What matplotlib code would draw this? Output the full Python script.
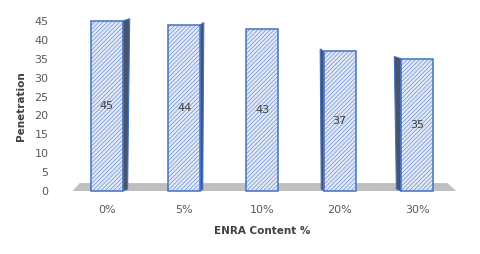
import matplotlib.pyplot as plt
from matplotlib.patches import Polygon

categories = ['0%', '5%', '10%', '20%', '30%']
penetration = [45, 44, 43, 37, 35]

plt.rcParams['hatch.linewidth'] = 0.6

fig = plt.figure(figsize=(4.8, 2.54), dpi=100)
ax = fig.add_axes([68 / 480, 1 - 191 / 254, 388 / 480, 170 / 254])

x = list(range(len(categories)))
w = 0.41
blue = '#4472c4'
side = '#465470'

# floor
floor = Polygon([(-0.44, 0), (4.50, 0), (4.39, 2.1), (-0.35, 2.1)],
                closed=True, facecolor='#bfbfbf', edgecolor='none', zorder=1, clip_on=False)
ax.add_patch(floor)

for i, v in enumerate(penetration):
    # side face, perspective shift depending on position
    dx = -(i - 2) * 0.045
    if abs(dx) > 0.001:
        edge = x[i] + w / 2 if dx > 0 else x[i] - w / 2
        face = Polygon([(edge, 0), (edge + dx * 0.7, 0.5), (edge + dx, v + 0.6), (edge, v)],
                       closed=True, facecolor=side, edgecolor=blue, lw=0.8, zorder=2, clip_on=False)
        ax.add_patch(face)
    ax.text(x[i], v / 2, str(v), ha='center', va='center', fontsize=8, color='#404040', zorder=5)

# hatched fill, then outline
ax.bar(x, penetration, width=w, color='#e3eaf7', edgecolor='#7f9dd8', linewidth=0,
       hatch='////////', zorder=3, clip_on=False)
ax.bar(x, penetration, width=w, color='none', edgecolor=blue, linewidth=1.1,
       zorder=4, clip_on=False)

ax.set_xlim(-0.5, 4.5)
ax.set_ylim(0, 45)
ax.set_yticks(range(0, 46, 5))
ax.set_xticks(x)
ax.set_xticklabels(categories)
ax.tick_params(length=0, labelsize=8, labelcolor='#595959')
ax.tick_params(axis='y', pad=14)
ax.tick_params(axis='x', pad=10)
for s in ax.spines.values():
    s.set_visible(False)

ax.set_xlabel('ENRA Content %', fontsize=7.5, fontweight='bold', color='#404040', labelpad=8)
ax.set_ylabel('Penetration', fontsize=7.5, fontweight='bold', color='#404040', labelpad=6)

fig.savefig('out.png', dpi=100)
